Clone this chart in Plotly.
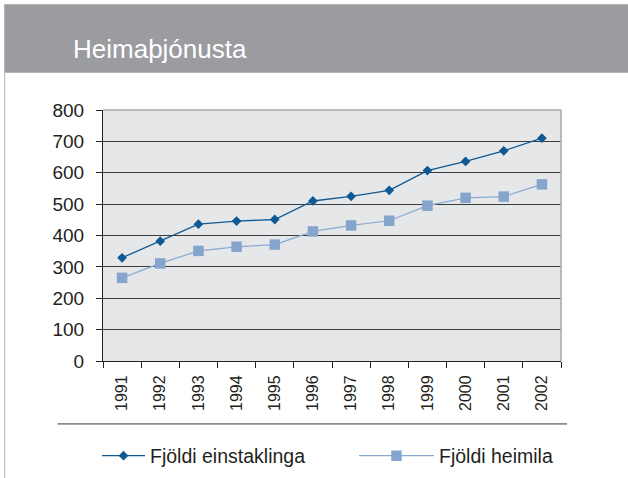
import plotly.graph_objects as go

# ---- data ----
years = ["1991", "1992", "1993", "1994", "1995", "1996", "1997", "1998", "1999", "2000", "2001", "2002"]
einstaklinga = [329, 382, 436, 446, 451, 510, 525, 544, 607, 636, 670, 710]
heimila = [265, 311, 351, 364, 371, 413, 432, 447, 495, 520, 524, 563]
title_text = "Heimaþjónusta"
name1 = "Fjöldi einstaklinga"
name2 = "Fjöldi heimila"

W, H = 628, 478
L, R, T, B = 103.3, 561, 110, 361.5

def px(x):
    return (x - L) / (R - L)

def py(y):
    return (B - y) / (B - T)

FONT = "Liberation Sans, Arial, sans-serif"
TXT = "#231f20"

fig = go.Figure()
fig.add_trace(go.Scatter(
    x=years, y=einstaklinga, name=name1, mode="lines+markers",
    line=dict(color="#0f5a94", width=1.3),
    marker=dict(symbol="diamond", size=7.5, color="#0f5a94"),
    legend="legend",
))
fig.add_trace(go.Scatter(
    x=years, y=heimila, name=name2, mode="lines+markers",
    line=dict(color="#8aaad0", width=1.2),
    marker=dict(symbol="square", size=10.5, color="#86a5cc"),
    legend="legend2",
))

shapes = [
    # header band
    dict(type="rect", xref="paper", yref="paper", x0=px(4.5), x1=px(640), y0=py(72.7), y1=py(4),
         fillcolor="#9b9c9f", line=dict(width=0), layer="below"),
    # left page line
    dict(type="line", xref="paper", yref="paper", x0=px(5), x1=px(5), y0=py(4), y1=py(480),
         line=dict(color="#b5b5b5", width=1)),
    # separator
    dict(type="line", xref="paper", yref="paper", x0=px(58), x1=px(567), y0=py(424.5), y1=py(424.5),
         line=dict(color="#8c8c8c", width=1.8)),
    # top and right plot border
    dict(type="line", xref="paper", yref="paper", x0=0, x1=1, y0=1, y1=1,
         line=dict(color="#a8a8a8", width=1.5)),
    dict(type="line", xref="paper", yref="paper", x0=1, x1=1, y0=0, y1=1,
         line=dict(color="#a8a8a8", width=1.5)),
]

fig.update_layout(
    width=W, height=H,
    margin=dict(l=L, r=W - R, t=T, b=H - B, pad=0),
    paper_bgcolor="white",
    plot_bgcolor="#e6e7e9",
    font=dict(family=FONT, color=TXT),
    title=dict(text=title_text, xref="container", yref="container",
               x=73 / W, xanchor="left", y=1 - 49 / H, yanchor="middle",
               font=dict(family=FONT, size=26, color="white")),
    shapes=shapes,
    showlegend=True,
    legend=dict(orientation="h", xref="container", yref="container",
                x=97 / W, xanchor="left", y=1 - 456 / H, yanchor="middle",
                itemwidth=43, font=dict(family=FONT, size=19.5, color=TXT),
                bgcolor="rgba(0,0,0,0)"),
    legend2=dict(orientation="h", xref="container", yref="container",
                 x=354 / W, xanchor="left", y=1 - 456 / H, yanchor="middle",
                 itemwidth=75, font=dict(family=FONT, size=19.5, color=TXT),
                 bgcolor="rgba(0,0,0,0)"),
)

fig.update_xaxes(
    type="category", range=[-0.5, len(years) - 0.5], showgrid=False, zeroline=False,
    showline=True, linecolor="#222", linewidth=1,
    ticks="outside", tickson="boundaries", ticklen=6, tickcolor="#222",
    tickangle=-90, tickfont=dict(family=FONT, size=16, color=TXT),
    ticklabelstandoff=7,
)
fig.update_yaxes(
    range=[0, 800], dtick=100, showgrid=True, gridcolor="#3c3c3c", gridwidth=1,
    zeroline=False, showline=True, linecolor="#222", linewidth=1,
    ticks="outside", ticklen=6, tickcolor="#222",
    tickfont=dict(family=FONT, size=19, color=TXT),
    ticklabelstandoff=8,
)

fig.write_html("out.html", config={"displayModeBar": False},
               post_script="document.body.style.margin='0';")
